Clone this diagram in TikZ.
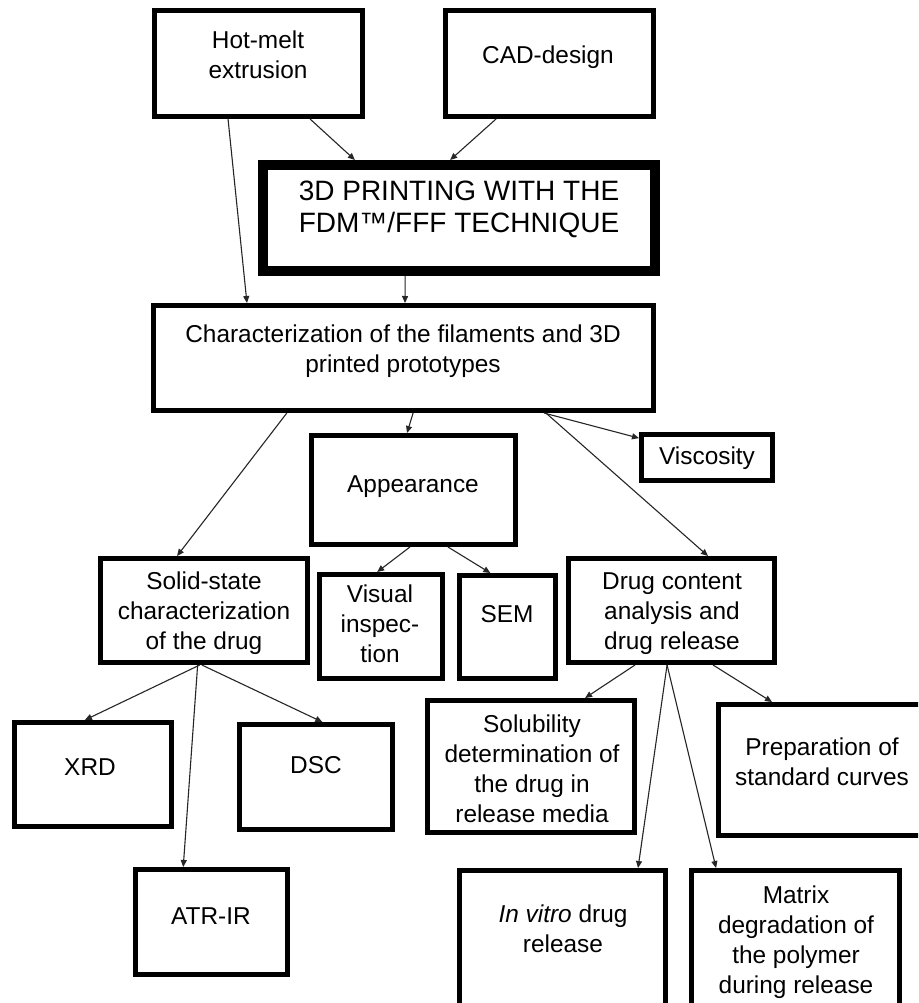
\documentclass[tikz,border=0pt]{standalone}
\usepackage{fontspec}
\setmainfont{Liberation Sans}
\usetikzlibrary{arrows.meta,calc}
\begin{document}
\begin{tikzpicture}[x=1pt,y=-1pt,
  box/.style={draw=black, line width=5pt, inner sep=0pt},
  bigbox/.style={draw=black, line width=10pt, inner sep=0pt},
  txt/.style={font=\fontsize{24.4}{30}\selectfont, align=center, anchor=base, inner sep=0pt},
  bigtxt/.style={font=\fontsize{28}{32}\selectfont, align=center, anchor=base, inner sep=0pt},
  arr/.style={line width=1.1pt, draw=black!85, -{Triangle[length=7pt,width=6pt]}}]
\useasboundingbox (0,0) rectangle (918,1003);
\fill[white] (0,0) rectangle (918,1003);
\clip (0,0) rectangle (918,1003);
% boxes
\node[box, minimum width=208pt, minimum height=106pt] (hme) at (258.5,63.5) {};
\node[box, minimum width=208pt, minimum height=106pt] (cad) at (549.5,63.5) {};
\node[bigbox, minimum width=392pt, minimum height=106pt] (print) at (459,218) {};
\node[box, minimum width=500pt, minimum height=105pt] (char) at (403.5,358) {};
\node[box, minimum width=131pt, minimum height=46pt] (visc) at (707,457.5) {};
\node[box, minimum width=204pt, minimum height=109pt] (app) at (413.5,490) {};
\node[box, minimum width=207pt, minimum height=104pt] (solid) at (204,610.5) {};
\node[box, minimum width=123pt, minimum height=104pt] (visual) at (381,626.5) {};
\node[box, minimum width=96pt, minimum height=103pt] (sem) at (507.5,627) {};
\node[box, minimum width=206pt, minimum height=104pt] (drug) at (671.5,610.5) {};
\node[box, minimum width=157pt, minimum height=104pt] (xrd) at (93,774.5) {};
\node[box, minimum width=153pt, minimum height=105pt] (dsc) at (316,777) {};
\node[box, minimum width=152pt, minimum height=105pt] (atr) at (211.5,922) {};
\node[box, minimum width=207pt, minimum height=132pt] (sol) at (531,766.5) {};
\node[box, minimum width=207pt, minimum height=131pt] (prep) at (822,770) {};
\node[box, minimum width=206pt, minimum height=137pt] (invitro) at (562.5,939) {};
\node[box, minimum width=208pt, minimum height=137pt] (matrix) at (795.5,939) {};
% texts (anchor = baseline of the last line)
\node[txt] (hmet) at (258,79) {Hot-melt\\extrusion};
\node[txt] (cadt) at (548,64) {CAD-design};
\node[bigtxt] (printt) at (459,232) {3D PRINTING WITH THE\\FDM™/FFF TECHNIQUE};
\node[txt] (chart) at (403,372) {Characterization of the filaments and 3D\\printed prototypes};
\node[txt] (visct) at (707,464) {Viscosity};
\node[txt] (appt) at (413,492) {Appearance};
\node[txt] (solidt) at (204,649) {Solid-state\\characterization\\of the drug};
\node[txt] (visualt) at (380,662) {Visual\\inspec-\\tion};
\node[txt] (semt) at (507,622) {SEM};
\node[txt] (drugt) at (672,649) {Drug content\\analysis and\\drug release};
\node[txt] (xrdt) at (90,775) {XRD};
\node[txt] (dsct) at (316,773) {DSC};
\node[txt] (atrt) at (211,924) {ATR-IR};
\node[txt] (solt) at (532,822) {Solubility\\determination of\\the drug in\\release media};
\node[txt] (prept) at (822,785) {Preparation of\\standard curves};
\node[txt] (invitrot) at (563,952) {\textit{In vitro} drug\\release};
\node[txt] (matrixt) at (796,993) {Matrix\\degradation of\\the polymer\\during release};
% connectors
\draw[arr] ($(hme.south west)!0.742!(hme.south east)$) -- ($(print.north west)!0.241!(print.north east)$);
\draw[arr] ($(cad.south west)!0.249!(cad.south east)$) -- ($(print.north west)!0.478!(print.north east)$);
\draw[arr] ($(hme.south west)!0.357!(hme.south east)$) -- ($(char.north west)!0.19!(char.north east)$);
\draw[arr] ($(print.south west)!0.366!(print.south east)$) -- ($(char.north west)!0.503!(char.north east)$);
\draw[arr] ($(char.south west)!0.519!(char.south east)$) -- ($(app.north west)!0.469!(app.north east)$);
\draw[arr] ($(char.south west)!0.778!(char.south east)$) -- ($(visc.north west)!0.12!(visc.south west)$);
\draw[arr] ($(char.south west)!0.269!(char.south east)$) -- ($(solid.north west)!0.373!(solid.north east)$);
\draw[arr] ($(char.south west)!0.782!(char.south east)$) -- ($(drug.north west)!0.673!(drug.north east)$);
\draw[arr] ($(app.south west)!0.483!(app.south east)$) -- ($(visual.north west)!0.47!(visual.north east)$);
\draw[arr] ($(app.south west)!0.665!(app.south east)$) -- ($(sem.north west)!0.33!(sem.north east)$);
\draw[arr] ($(solid.south west)!0.48!(solid.south east)$) -- ($(xrd.north west)!0.45!(xrd.north east)$);
\draw[arr] ($(solid.south west)!0.47!(solid.south east)$) -- ($(atr.north west)!0.32!(atr.north east)$);
\draw[arr] ($(solid.south west)!0.49!(solid.south east)$) -- ($(dsc.north west)!0.54!(dsc.north east)$);
\draw[arr] ($(drug.south west)!0.327!(drug.south east)$) -- ($(sol.north west)!0.755!(sol.north east)$);
\draw[arr] ($(drug.south west)!0.479!(drug.south east)$) -- ($(invitro.north west)!0.858!(invitro.north east)$);
\draw[arr] ($(drug.south west)!0.479!(drug.south east)$) -- ($(matrix.north west)!0.127!(matrix.north east)$);
\draw[arr] ($(drug.south west)!0.697!(drug.south east)$) -- ($(prep.north west)!0.264!(prep.north east)$);
\end{tikzpicture}
\end{document}
